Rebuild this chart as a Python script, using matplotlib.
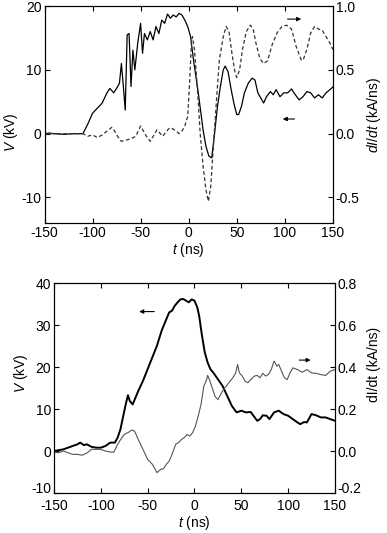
import matplotlib
matplotlib.use("Agg")
import matplotlib.pyplot as plt
from matplotlib.transforms import ScaledTranslation
import numpy as np

plt.rcParams['font.family'] = ['Liberation Sans', 'DejaVu Sans']
plt.rcParams['mathtext.fontset'] = 'custom'
plt.rcParams['mathtext.it'] = 'Liberation Sans:italic'
plt.rcParams['mathtext.rm'] = 'Liberation Sans'

# ---------- top panel data ----------
t_top_v = [-150, -145, -140, -130, -120, -110, -105, -100, -95, -90, -85, -82, -78, -75, -72, -70, -68,
           -66, -64, -62, -60, -58, -56, -53, -50, -48, -46, -43, -40, -37, -34, -31, -28, -25,
           -22, -19, -16, -13, -10, -7, -4, -1, 2, 5, 10, 15, 18, 21, 24, 27, 30, 33, 36, 38,
           41, 44, 47, 50, 52, 55, 58, 62, 66, 69, 72, 75, 78, 81, 85, 88, 91, 95, 99, 103,
           107, 111, 115, 119, 123, 127, 131, 135, 139, 143, 147, 150]
v_top = [0.0, 0.1, 0.0, -0.1, 0.0, 0.0, 1.5, 3.2, 4.0, 4.8, 6.4, 7.1, 6.4, 7.1, 7.9, 11.0, 7.5,
         3.7, 15.5, 15.7, 7.4, 13.1, 10.0, 14.2, 17.3, 12.6, 15.7, 14.7, 16.0, 14.7, 16.8, 15.7, 17.8, 17.3,
         18.75, 18.1, 18.6, 18.3, 18.85, 18.6, 17.8, 16.8, 15.2, 11.6, 6.4, 0.6, -2.0, -3.5, -3.8, 0.1, 4.3, 7.4, 10.0, 10.6,
         9.7, 7.1, 4.8, 3.0, 3.0, 4.3, 6.4, 7.9, 8.7, 8.4, 6.4, 5.6, 4.8, 5.8, 6.6, 6.1, 6.9, 5.8, 6.4, 6.4,
         7.0, 6.1, 5.3, 5.8, 6.6, 6.4, 5.6, 6.1, 5.6, 6.4, 6.9, 7.3]

t_top_d = [-150, -130, -110, -105, -100, -95, -90, -85, -80, -77, -74, -70, -65, -60, -55, -50, -47,
           -44, -40, -36, -33, -30, -27, -24, -20, -17, -13, -10, -7, -4, -1, 1, 3, 4, 6, 9,
           12, 15, 18, 20.5, 23, 26, 29, 32, 36, 39, 42, 45, 48, 50, 53, 56, 60, 64, 67, 70,
           74, 78, 82, 87, 92, 97, 102, 107, 112, 117, 119, 123, 127, 131, 135, 139, 143, 147, 150]
d_top = [0.0, 0.0, 0.0, -0.02, -0.01, -0.03, -0.01, 0.02, 0.05, 0.02, -0.02, -0.06, -0.05, -0.04, -0.02, 0.06, 0.02,
         -0.02, -0.06, -0.01, 0.03, 0.005, -0.02, 0.01, 0.045, 0.04, 0.02, 0.0, 0.02, 0.06, 0.135, 0.40, 0.73, 0.76, 0.66, 0.37,
         0.0, -0.255, -0.44, -0.53, -0.41, -0.07, 0.27, 0.58, 0.76, 0.84, 0.80, 0.63, 0.49, 0.44, 0.50, 0.66, 0.80, 0.85, 0.825, 0.71,
         0.59, 0.55, 0.57, 0.70, 0.79, 0.84, 0.85, 0.82, 0.68, 0.58, 0.575, 0.66, 0.79, 0.84, 0.82, 0.81, 0.76, 0.71, 0.66]

# ---------- bottom panel data ----------
t_bot_v = [-150, -145, -140, -135, -130, -125, -122, -118, -115, -110, -105, -100, -95, -90, -85, -82,
           -79, -76, -73, -71, -69, -66, -63, -60, -55, -50, -45, -40, -35, -30, -27, -24, -21, -18,
           -15, -12, -9, -6, -3, 0, 3, 5, 8, 11, 14, 17, 20, 25, 30, 35, 40, 45, 50, 55, 60, 63,
           67, 70, 73, 77, 80, 85, 90, 95, 100, 105, 110, 113, 117, 120, 125, 130, 135, 140, 145, 150]
v_bot = [0.0, 0.2, 0.4, 0.8, 1.2, 1.6, 2.0, 1.4, 1.6, 1.0, 0.8, 0.8, 1.2, 2.0, 2.0, 3.2,
         5.2, 8.4, 11.5, 13.3, 11.9, 11.1, 12.7, 14.3, 16.7, 19.5, 22.3, 25.1, 28.7, 31.4, 33.0, 33.4, 34.6, 35.4,
         36.1, 36.2, 35.8, 35.4, 36.1, 35.8, 34.2, 32.2, 27.5, 23.5, 21.1, 19.5, 18.7, 17.1, 15.5, 13.1, 10.7, 9.2, 9.6, 9.2, 9.3, 8.4,
         7.2, 7.6, 8.5, 8.4, 7.6, 9.2, 9.6, 8.8, 8.4, 7.6, 6.8, 6.4, 6.9, 6.8, 8.8, 8.5, 8.0, 8.0, 7.6, 7.2]

t_bot_d = [-150, -145, -140, -135, -130, -125, -120, -115, -110, -105, -100, -95, -90, -86, -83,
           -80, -75, -70, -67, -64, -60, -55, -50, -45, -42, -40, -36, -33, -30, -27, -24, -20,
           -17, -14, -11, -8, -5, -2, 1, 4, 7, 10, 13, 14, 16, 19, 22, 25, 28, 31, 34, 38, 41,
           44, 46, 48, 51, 54, 57, 60, 64, 67, 70, 73, 76, 79, 82, 85, 88, 90, 93, 96, 99, 102,
           105, 110, 115, 120, 125, 130, 135, 140, 145, 150]
d_bot = [-0.005, -0.008, 0.0, -0.008, -0.016, -0.016, -0.02, -0.01, 0.008, 0.008, 0.008, 0.0, -0.005, -0.005, 0.024,
         0.047, 0.079, 0.09, 0.10, 0.095, 0.055, 0.008, -0.04, -0.063, -0.087, -0.103, -0.087, -0.084, -0.063, -0.048, -0.016, 0.032,
         0.04, 0.055, 0.063, 0.079, 0.071, 0.087, 0.119, 0.166, 0.222, 0.309, 0.34, 0.36, 0.34, 0.30, 0.26, 0.245, 0.27, 0.293, 0.309, 0.333, 0.349,
         0.372, 0.412, 0.372, 0.357, 0.333, 0.325, 0.34, 0.357, 0.36, 0.349, 0.37, 0.357, 0.365, 0.388, 0.428, 0.404, 0.412, 0.38, 0.349, 0.34, 0.372,
         0.396, 0.388, 0.375, 0.388, 0.372, 0.37, 0.364, 0.36, 0.38, 0.388]

x_ticks = [-150, -100, -50, 0, 50, 100, 150]
top_left_ticks = [-10, 0, 10, 20]
top_right_ticks = [-0.5, 0.0, 0.5, 1.0]
bot_left_ticks = [-10, 0, 10, 20, 30, 40]
bot_right_ticks = [-0.2, 0.0, 0.2, 0.4, 0.6, 0.8]

FS = 10
LFS = 10
fig = plt.figure(figsize=(3.87, 5.33), dpi=100)

def style(ax, twin):
    ax.tick_params(direction='in', labelsize=FS, length=3.5, width=0.8, top=True, pad=2)
    twin.tick_params(direction='in', labelsize=FS, length=3.5, width=0.8, pad=2)
    for a in (ax, twin):
        for s in a.spines.values():
            s.set_linewidth(0.8)

# top panel
ax1 = fig.add_axes([0.115, 0.5816, 0.745, 0.407])
ax1b = ax1.twinx()
ax1.plot(t_top_v, v_top, color='black', lw=0.9)
ax1b.plot(t_top_d, d_top, color='#333333', lw=0.9, ls=(0, (3, 2)))
ax1.set_xlim(-150, 150)
ax1.set_ylim(-14, 20)
ax1b.set_ylim(-0.7, 1.0)
ax1.set_xticks(x_ticks)
ax1.set_yticks(top_left_ticks)
ax1b.set_yticks(top_right_ticks)
ax1b.set_yticklabels(['-0.5', '0.0', '0.5', '1.0'])
ax1.set_yticklabels([str(v) for v in top_left_ticks])
ax1.set_xticklabels([str(v) for v in x_ticks])
ax1.set_xlabel('$t$ (ns)', fontsize=LFS, labelpad=1)
ax1.set_ylabel('$V$ (kV)', fontsize=LFS, labelpad=1)
ax1b.set_ylabel('$dI/dt$ (kA/ns)', fontsize=LFS, labelpad=4)
ax1.yaxis.label.set_y(0.42)
style(ax1, ax1b)
ax1b.annotate('', xy=(120, 0.898), xytext=(100, 0.898),
              arrowprops=dict(arrowstyle='-|>', color='black', lw=0.8, mutation_scale=6))
ax1.annotate('', xy=(95, 2.3), xytext=(113, 2.3),
             arrowprops=dict(arrowstyle='-|>', color='black', lw=0.8, mutation_scale=6))

# bottom panel
ax2 = fig.add_axes([0.1395, 0.075, 0.726, 0.394])
ax2b = ax2.twinx()
ax2.plot(t_bot_v, v_bot, color='black', lw=1.4)
ax2b.plot(t_bot_d, d_bot, color='#555555', lw=0.8)
ax2.set_xlim(-150, 150)
ax2.set_ylim(-10, 40)
ax2b.set_ylim(-0.2, 0.8)
ax2.set_xticks(x_ticks)
ax2.set_xticklabels([str(v) for v in x_ticks])
ax2.set_yticks(bot_left_ticks)
ax2.set_yticklabels([str(v) for v in bot_left_ticks])
ax2b.set_yticks(bot_right_ticks)
ax2b.set_yticklabels(['-0.2', '0.0', '0.2', '0.4', '0.6', '0.8'])
ax2.set_xlabel('$t$ (ns)', fontsize=LFS, labelpad=1)
ax2.set_ylabel('$V$ (kV)', fontsize=LFS, labelpad=1)
ax2b.set_ylabel('dI/dt (kA/ns)', fontsize=LFS, labelpad=4)
ax2.yaxis.label.set_y(0.57)
ax2b.yaxis.label.set_y(0.61)
style(ax2, ax2b)
ax2.tick_params(axis='x', pad=4)
ax2.annotate('', xy=(-62, 33.2), xytext=(-40, 33.2),
             arrowprops=dict(arrowstyle='-|>', color='black', lw=0.8, mutation_scale=6))
ax2b.annotate('', xy=(127, 0.433), xytext=(109, 0.433),
              arrowprops=dict(arrowstyle='-|>', color='black', lw=0.8, mutation_scale=6))

# raise the lowest y tick labels of the bottom panel slightly (as in the reference)
up = ScaledTranslation(0, 4 / 72, fig.dpi_scale_trans)
for lab in (ax2.get_yticklabels()[0], ax2b.get_yticklabels()[0]):
    lab.set_transform(lab.get_transform() + up)

fig.savefig('out.png', dpi=100)
